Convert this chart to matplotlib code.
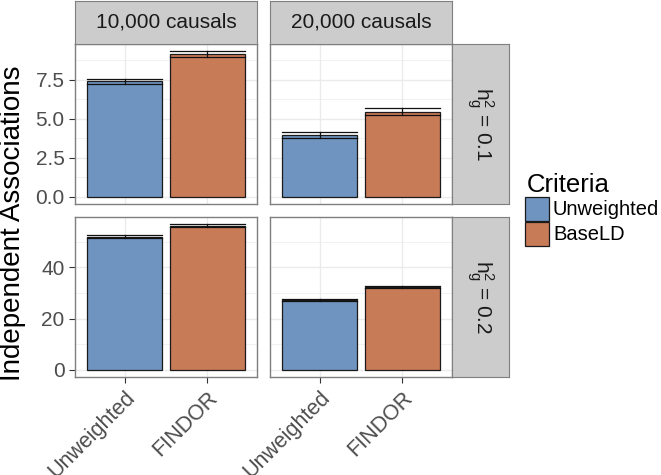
import numpy as np
import matplotlib.pyplot as plt
from matplotlib.patches import Rectangle

plt.rcParams['font.family'] = ['Liberation Sans', 'DejaVu Sans']
plt.rcParams['mathtext.fontset'] = 'custom'
plt.rcParams['mathtext.rm'] = 'Liberation Sans'
plt.rcParams['mathtext.it'] = 'Liberation Sans'

methods = ['Unweighted', 'FINDOR']
criteria = ['Unweighted', 'BaseLD']
causals = ['10,000 causals', '20,000 causals']
h2_labels = [r'$\mathrm{h}^2_\mathrm{g}$ = 0.1', r'$\mathrm{h}^2_\mathrm{g}$ = 0.2']

# mean / standard error, rows = h2, cols = causals
mean_h01 = [[7.40, 9.13], [3.95, 5.43]]
se_h01 = [[0.16, 0.18], [0.20, 0.22]]
mean_h02 = [[51.9, 56.3], [27.2, 32.3]]
se_h02 = [[0.6, 0.5], [0.35, 0.4]]
means = [mean_h01, mean_h02]
ses = [se_h01, se_h02]

yticks = [[0, 2.5, 5.0, 7.5], [0, 20, 40]]
ytick_labels = [['0.0', '2.5', '5.0', '7.5'], ['0', '20', '40']]
minor_ticks = [[1.25, 3.75, 6.25, 8.75], [10, 30, 50]]

colors = ['#7094C0', '#C87B57']
border = '#7F7F7F'
grid_c = '#EBEBEB'

W, H = 661, 475
fig = plt.figure(figsize=(W / 100, H / 100), dpi=100)

def px_axes(x0, y0, x1, y1):
    return fig.add_axes([x0 / W, 1 - y1 / H, (x1 - x0) / W, (y1 - y0) / H])

panel_x = [(75, 257), (270, 452)]
panel_y = [(44, 204), (217, 377)]

for r in range(2):
    ymax = max(m + s for row_m, row_s in zip(means[r], ses[r]) for m, s in zip(row_m, row_s))
    pad = 0.05 * ymax
    for c in range(2):
        ax = px_axes(panel_x[c][0], panel_y[r][0], panel_x[c][1], panel_y[r][1])
        ax.set_xlim(0.4, 2.6)
        ax.set_ylim(-pad, ymax + pad)
        for yv in minor_ticks[r]:
            ax.axhline(yv, color=grid_c, lw=0.5, zorder=0)
        for yv in yticks[r]:
            ax.axhline(yv, color=grid_c, lw=1.0, zorder=0)
        for xv in [1, 2]:
            ax.axvline(xv, color=grid_c, lw=1.0, zorder=0)
        xs = np.arange(1, 3)
        ax.bar(xs, means[r][c], width=0.9, color=colors, edgecolor='#1A1A1A',
               linewidth=0.9, zorder=2)
        for x, m, s in zip(xs, means[r][c], ses[r][c]):
            ax.plot([x - 0.45, x + 0.45], [m + s, m + s], color='#111111', lw=0.9, zorder=3)
            ax.plot([x - 0.45, x + 0.45], [m - s, m - s], color='#111111', lw=0.9, zorder=3)
            ax.plot([x, x], [m - s, m + s], color='#111111', lw=0.9, zorder=3)
        for sp in ax.spines.values():
            sp.set_color(border)
            sp.set_linewidth(1.0)
        ax.set_xticks(xs)
        ax.tick_params(length=4, width=0.8, color='#333333', labelcolor='#4D4D4D')
        if c == 0:
            ax.set_yticks(yticks[r])
            ax.set_yticklabels(ytick_labels[r], fontsize=15)
        else:
            ax.set_yticks(yticks[r])
            ax.set_yticklabels([])
            ax.tick_params(axis='y', length=0)
        if r == 1:
            ax.set_xticklabels(methods, fontsize=15.5, rotation=45, ha='right',
                               va='top', rotation_mode='anchor')
        else:
            ax.set_xticklabels([])
            ax.tick_params(axis='x', length=0)

# top strips
for c in range(2):
    sax = px_axes(panel_x[c][0], 1, panel_x[c][1], 44)
    sax.set_facecolor('#CCCCCC')
    sax.set_xticks([])
    sax.set_yticks([])
    for sp in sax.spines.values():
        sp.set_color(border)
    sax.text(0.5, 0.5, causals[c], ha='center', va='center', fontsize=15,
             color='#1A1A1A', transform=sax.transAxes)

# right strips
for r in range(2):
    sax = px_axes(452, panel_y[r][0], 509, panel_y[r][1])
    sax.set_facecolor('#CCCCCC')
    sax.set_xticks([])
    sax.set_yticks([])
    for sp in sax.spines.values():
        sp.set_color(border)
    sax.text(0.5, 0.5, h2_labels[r], ha='center', va='center', fontsize=15,
             color='#1A1A1A', rotation=-90, transform=sax.transAxes)

fig.text(13 / W, 1 - 223 / H, 'Independent Associations', rotation=90,
         ha='center', va='center', fontsize=20)

# legend
fig.text(527 / W, 1 - 192 / H, 'Criteria', fontsize=18.5, ha='left', va='baseline')
for i, (lab, col) in enumerate(zip(criteria, colors)):
    y0 = 197 + 25 * i
    fig.patches.append(Rectangle((525 / W, 1 - (y0 + 24) / H), 24 / W, 24 / H,
                                 transform=fig.transFigure, facecolor=col,
                                 edgecolor='#1A1A1A', linewidth=0.9))
    fig.text(553 / W, 1 - (y0 + 12.5) / H, lab, fontsize=14.5, ha='left', va='center')

fig.savefig('out.png', dpi=100)
